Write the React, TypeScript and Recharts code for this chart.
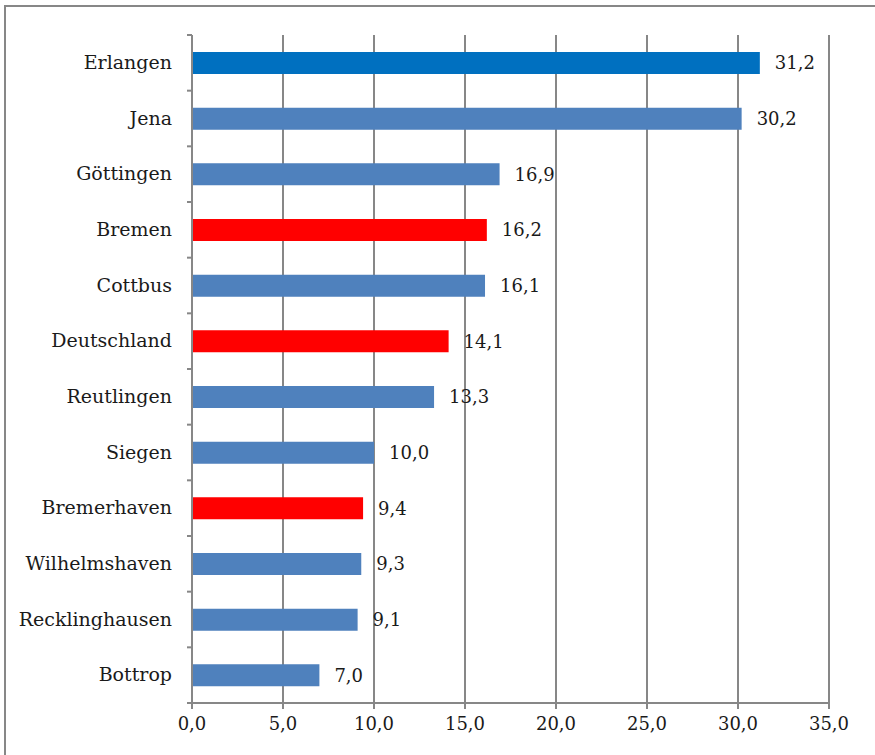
import { Bar, BarChart, CartesianGrid, Cell, LabelList, XAxis, YAxis } from 'recharts';

// Share per city, top to bottom as drawn.
const cities = [
  'Erlangen',
  'Jena',
  'Göttingen',
  'Bremen',
  'Cottbus',
  'Deutschland',
  'Reutlingen',
  'Siegen',
  'Bremerhaven',
  'Wilhelmshaven',
  'Recklinghausen',
  'Bottrop',
];
const shares = [31.2, 30.2, 16.9, 16.2, 16.1, 14.1, 13.3, 10.0, 9.4, 9.3, 9.1, 7.0];
const xTicks = [0, 5, 10, 15, 20, 25, 30, 35];

const topCity = 'Erlangen';
const redCities = ['Bremen', 'Deutschland', 'Bremerhaven'];

const data = cities.map((city, i) => ({ city, share: shares[i] }));

const FONT = '"DejaVu Serif", serif';
const GRID = '#878787';
const W = 875;
const H = 755;
const MARGIN = { top: 35, right: 46, bottom: 22, left: 0 };
const X_AXIS_H = 30;
const PLOT_H = H - MARGIN.top - MARGIN.bottom - X_AXIS_H;
const BAND = PLOT_H / cities.length;

const fmt = (v: number) => v.toFixed(1).replace('.', ',');

function colorFor(city: string) {
  if (city === topCity) return '#0070C0';
  if (redCities.includes(city)) return '#FF0000';
  return '#4F81BD';
}

// Category label plus the small tick marks that sit between bands.
function CityTick(props: any) {
  const { x, y, payload, index } = props;
  const ax = x + 20;
  return (
    <g>
      <line x1={ax - 5} x2={ax} y1={y - BAND / 2} y2={y - BAND / 2} stroke={GRID} strokeWidth={2} />
      {index === cities.length - 1 && (
        <line x1={ax - 5} x2={ax} y1={y + BAND / 2} y2={y + BAND / 2} stroke={GRID} strokeWidth={2} />
      )}
      <text x={x} y={y} dy={6} textAnchor="end" fill="#1a1a1a" fontSize={19} fontFamily={FONT}>
        {payload.value}
      </text>
    </g>
  );
}

export default function App() {
  return (
    <div style={{ position: 'absolute', left: 0, top: 0, width: W, height: H, overflow: 'hidden', background: '#fff' }}>
      <div
        style={{
          position: 'absolute',
          left: 4,
          top: 5,
          width: W + 40,
          height: H + 40,
          border: `2px solid ${GRID}`,
        }}
      />
      <BarChart
        width={W}
        height={H}
        data={data}
        layout="vertical"
        margin={MARGIN}
        barCategoryGap={0}
        style={{ position: 'absolute', left: 0, top: 0 }}
      >
        <CartesianGrid horizontal={false} stroke={GRID} strokeWidth={2} />
        <XAxis
          type="number"
          domain={[0, 35]}
          ticks={xTicks}
          interval={0}
          height={X_AXIS_H}
          stroke={GRID}
          strokeWidth={2}
          tickSize={6}
          tickMargin={8}
          tickFormatter={fmt}
          tick={{ fill: '#1a1a1a', fontSize: 18, fontFamily: FONT }}
        />
        <YAxis
          type="category"
          dataKey="city"
          width={192}
          stroke={GRID}
          strokeWidth={2}
          tickLine={false}
          tickSize={6}
          tickMargin={14}
          tick={<CityTick />}
          interval={0}
        />
        <Bar dataKey="share" barSize={22} isAnimationActive={false}>
          {data.map((d) => (
            <Cell key={d.city} fill={colorFor(d.city)} />
          ))}
          <LabelList
            dataKey="share"
            position="right"
            offset={15}
            formatter={(v: any) => fmt(Number(v))}
            fill="#1a1a1a"
            fontSize={18}
            fontFamily={FONT}
          />
        </Bar>
      </BarChart>
    </div>
  );
}
